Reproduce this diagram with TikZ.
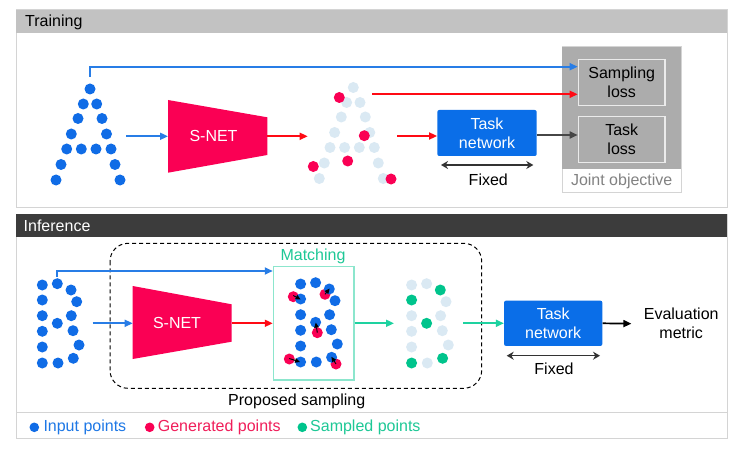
\documentclass[tikz,border=0pt]{standalone}
\usepackage{fontspec}
\setmainfont{Liberation Sans}
\usetikzlibrary{arrows.meta}
\definecolor{dotblue}{RGB}{16,108,230}
\definecolor{lightdot}{RGB}{218,233,243}
\definecolor{pinkred}{RGB}{250,0,84}
\definecolor{arrred}{RGB}{255,10,20}
\definecolor{arrblue}{RGB}{40,125,230}
\definecolor{greendot}{RGB}{0,196,140}
\definecolor{arrgreen}{RGB}{30,210,160}
\definecolor{matchbox}{RGB}{140,230,205}
\definecolor{matchtxt}{RGB}{30,200,150}
\definecolor{tnetblue}{RGB}{10,110,232}
\definecolor{hdrtrain}{RGB}{194,194,194}
\definecolor{hdrinf}{RGB}{60,60,60}
\definecolor{jointgray}{RGB}{172,172,172}
\definecolor{jointtxt}{RGB}{130,130,130}
\definecolor{panelline}{RGB}{212,212,212}
\definecolor{legblue}{RGB}{30,120,230}
\definecolor{legred}{RGB}{240,30,90}
\definecolor{darkarr}{RGB}{70,70,70}
\begin{document}
\begin{tikzpicture}[x=1pt,y=-1pt,font=\fontsize{16}{19}\selectfont,
  arr/.style={line width=1.7pt,-{Triangle[length=8pt,width=7pt]}},
  fixarr/.style={line width=1.4pt,black!80,{Stealth[length=7pt,width=8pt]}-{Stealth[length=7pt,width=8pt]}},
  tnet/.style={rectangle,rounded corners=2pt,fill=tnetblue,text=white,align=center,inner sep=0pt},
  lossbox/.style={rectangle,fill=jointgray,draw=white!92!black,line width=1.3pt,align=center,minimum width=86.7pt,minimum height=46pt,inner sep=0pt},
  plain/.style={inner sep=0pt,align=center}]
\useasboundingbox (0,0) rectangle (738,449);
\fill[white] (0,0) rectangle (738,449);
\def\rr{5.5pt}

% ---------- Training panel ----------
\draw[panelline,line width=1pt] (16,10) rectangle (727,207);
\fill[hdrtrain] (16,10) rectangle (727,33);
\node[plain,anchor=west] (trainlbl) at (25,22) {Training};

% A input points
\def\Apts{90/89,83.3/104,96.7/104,78/118.5,102/118.5,71.3/134,106.5/134,66.7/149,81.3/149,96/149,111/149,61/164.5,115/164.5,56/180,120/180}
\foreach \x/\y in \Apts {\fill[dotblue] (\x,\y) circle (\rr);}
% generated A
\begin{scope}[shift={(263.3,-1.5)}]
\foreach \x/\y in \Apts {\fill[lightdot] (\x,\y) circle (\rr);}
\end{scope}
\foreach \x/\y in {339.3/97.5,364.3/135.7,313.3/166.5,347.7/161,391/179} {\fill[pinkred] (\x,\y) circle (\rr);}

% S-NET training
\fill[pinkred] (168,100) -- (267.3,117.3) -- (267.3,155) -- (168,172.7) -- cycle;
\node[plain,text=white] (snet1) at (213.5,136.3) {S-NET};
\coordinate (s1in) at (168,136.3);
\coordinate (s1out) at (267.3,136.3);
\coordinate (ain) at (126,136.3);
\coordinate (genin) at (307.7,136.3);
\coordinate (atop) at (90,77);
\coordinate (genR) at (372,94.3);
\coordinate (genout) at (397.3,136);

% joint objective
\draw[panelline,line width=1pt,fill=white] (562.3,46.7) rectangle (681,192.7);
\fill[jointgray] (562.3,46.7) rectangle (681,169);
\node[plain,text=jointtxt] (jointlbl) at (621.7,181.2) {Joint objective};
\node[lossbox] (samp) at (621.7,82.3) {Sampling\\loss};
\node[lossbox] (tloss) at (621.7,139.3) {Task\\loss};

\node[tnet,minimum width=99.4pt,minimum height=46pt] (tnet1) at (487,133) {Task\\network};
\coordinate (fx1) at (441,165);
\coordinate (fx2) at (533.3,165);
\draw[fixarr] (fx1) -- (fx2);
\node[plain] (fixed1) at (488.3,180) {Fixed};

\draw[arr,arrblue] (ain) -- (s1in);
\draw[arr,arrred] (s1out) -- (genin);
\draw[arr,arrblue] (atop) |- ([yshift=15.6pt]samp.west);
\draw[arr,arrred] (genR) -- ([yshift=-12pt]samp.west);
\draw[arr,arrred] (genout) -- (genout -| tnet1.west);
\draw[arr,darkarr] ([yshift=-2pt]tnet1.east) -- ([yshift=-2pt]tnet1.east -| tloss.west);

% ---------- Inference panel ----------
\draw[panelline,line width=1pt] (16,214) rectangle (727,438);
\draw[panelline,line width=1pt] (16,412) -- (727,412);
\fill[hdrinf] (16,214) rectangle (727,237);
\node[plain,anchor=west,text=white] (inflbl) at (23.5,226) {Inference};

% dashed proposed-sampling region
\draw[dashed,line width=1pt,dash pattern=on 4pt off 3pt,rounded corners=18pt] (110,243.3) rectangle (481.7,388.3);
\node[plain] (proposed) at (296.7,401) {Proposed sampling};

\def\Bpts{42.3/285,42.3/300,42.3/315.7,42.3/331.3,42.3/347,42.3/363,57.3/283.7,71/290,76.7/301.7,71.3/315.7,57.3/323.3,73/330.7,79/345,73.3/358.3,58/363}
\foreach \x/\y in \Bpts {\fill[dotblue] (\x,\y) circle (\rr);}

% S-NET inference
\fill[pinkred] (132.7,286) -- (231.7,304.3) -- (231.7,341.7) -- (132.7,359) -- cycle;
\node[plain,text=white] (snet2) at (177,323.3) {S-NET};
\coordinate (s2in) at (132.7,323.3);
\coordinate (s2out) at (231.7,323.3);
\coordinate (bin) at (92.7,323.3);
\coordinate (btop) at (57.3,276.5);

% matching box
\node[draw=matchbox,line width=1.2pt,minimum width=80.7pt,minimum height=113.3pt,inner sep=0pt] (match) at (313.7,323.3) {};
\node[plain,text=matchtxt] (matchlbl) at (313,256.5) {Matching};
\foreach \x/\y in {293.3/296.7,325/294.3,317.3/332.7,289.3/359,336/364} {\fill[pinkred] (\x,\y) circle (\rr);}
\begin{scope}[shift={(258.3,-1)}]
\foreach \x/\y in \Bpts {\fill[dotblue] (\x,\y) circle (\rr);}
\end{scope}
\foreach \ax/\ay/\bx/\by in {293.3/295.5/300.6/299.5,325/294.3/329.6/288.6,317.3/332.7/315.8/322.6,289.3/358.5/300/362,336/364/331.4/356.8}
  {\draw[black,line width=0.9pt,-{Triangle[length=5pt,width=4.5pt]}] (\ax,\ay) -- (\bx,\by);}

% sampled points
\begin{scope}[shift={(369.3,0)}]
\foreach \x/\y/\c in {42.3/285/lightdot,42.3/300/greendot,42.3/315.7/lightdot,42.3/331.3/lightdot,42.3/347/lightdot,42.3/363/greendot,57.3/283.7/lightdot,71/290/greendot,76.7/301.7/lightdot,71.3/315.7/lightdot,57.3/323.3/greendot,73/330.7/lightdot,79/345/lightdot,73.3/358.3/greendot,58/363/lightdot}
  {\fill[\c] (\x,\y) circle (\rr);}
\end{scope}
\coordinate (smpin) at (394,323.3);
\coordinate (smpout) at (463.3,323.3);

\node[tnet,minimum width=98.3pt,minimum height=45.3pt] (tnet2) at (553.2,323.3) {Task\\network};
\node[plain,inner xsep=12.3pt] (eval) at (681.2,323.7) {Evaluation\\metric};
\coordinate (fx3) at (506.7,355.7);
\coordinate (fx4) at (600,355.7);
\draw[fixarr] (fx3) -- (fx4);
\node[plain] (fixed2) at (554,368.5) {Fixed};

\draw[arr,arrblue] (btop) |- ([yshift=52.3pt]match.west);
\draw[arr,arrblue] (bin) -- (s2in);
\draw[arr,arrred] (s2out) -- (match.west);
\draw[arr,arrgreen] (match.east) -- (smpin);
\draw[arr,arrgreen] (smpout) -- (tnet2.west);
\draw[arr,black] (tnet2.east) -- (eval.west);

% legend
\fill[dotblue] (34.3,427.3) circle (4.8pt);
\node[plain,anchor=west,text=legblue] (leg1) at (43.3,427.3) {Input points};
\fill[pinkred] (149.7,427.3) circle (4.8pt);
\node[plain,anchor=west,text=legred] (leg2) at (157.7,427.3) {Generated points};
\fill[greendot] (302.3,427.3) circle (4.8pt);
\node[plain,anchor=west,text=matchtxt] (leg3) at (310,427.3) {Sampled points};
\end{tikzpicture}
\end{document}
